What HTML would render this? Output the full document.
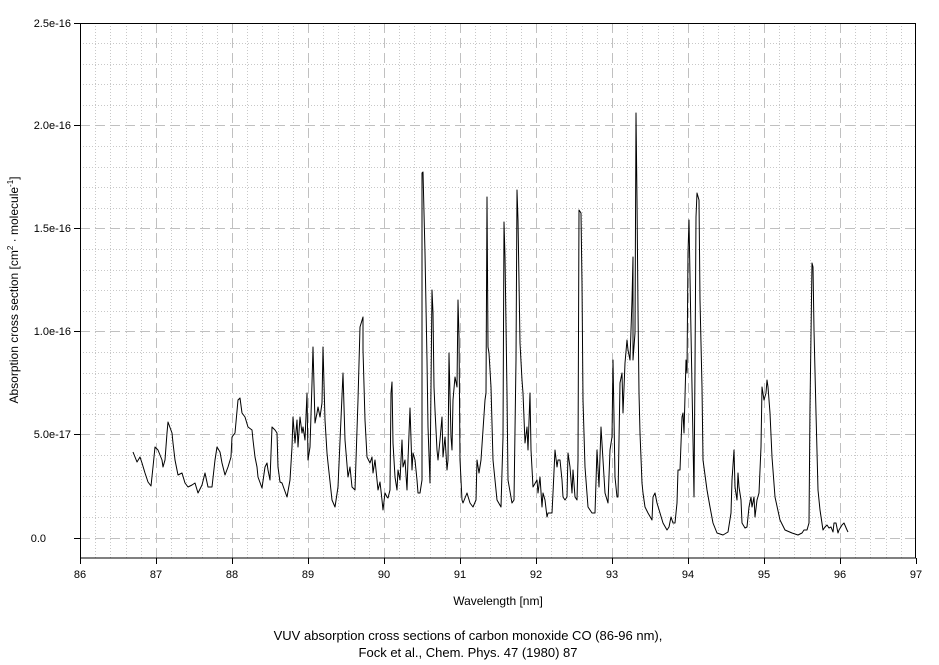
<!DOCTYPE html>
<html><head><meta charset="utf-8"><style>
html,body{margin:0;padding:0;background:#fff;}
svg{display:block;font-family:"Liberation Sans",Arial,sans-serif;}
</style></head><body>
<svg width="939" height="665" viewBox="0 0 939 665" xmlns="http://www.w3.org/2000/svg">
<rect width="939" height="665" fill="#fff"/>
<g stroke="#c8c8c8" stroke-width="1" stroke-dasharray="1,2" shape-rendering="crispEdges">
<path d="M95.5 23V558M110.5 23V558M126.5 23V558M141.5 23V558M171.5 23V558M186.5 23V558M202.5 23V558M217.5 23V558M247.5 23V558M262.5 23V558M278.5 23V558M293.5 23V558M323.5 23V558M338.5 23V558M354.5 23V558M369.5 23V558M399.5 23V558M414.5 23V558M430.5 23V558M445.5 23V558M475.5 23V558M490.5 23V558M506.5 23V558M521.5 23V558M551.5 23V558M566.5 23V558M582.5 23V558M597.5 23V558M627.5 23V558M642.5 23V558M658.5 23V558M673.5 23V558M703.5 23V558M718.5 23V558M734.5 23V558M749.5 23V558M779.5 23V558M794.5 23V558M810.5 23V558M825.5 23V558M855.5 23V558M870.5 23V558M886.5 23V558M901.5 23V558"/>
<path d="M80 43.5H916M80 64.5H916M80 84.5H916M80 105.5H916M80 146.5H916M80 167.5H916M80 187.5H916M80 208.5H916M80 249.5H916M80 270.5H916M80 290.5H916M80 311.5H916M80 352.5H916M80 373.5H916M80 393.5H916M80 414.5H916M80 455.5H916M80 476.5H916M80 496.5H916M80 517.5H916"/>
</g>
<g stroke="#c0c0c0" stroke-width="1" stroke-dasharray="10,5" shape-rendering="crispEdges">
<path d="M156.5 23V558M232.5 23V558M308.5 23V558M384.5 23V558M460.5 23V558M536.5 23V558M612.5 23V558M688.5 23V558M764.5 23V558M840.5 23V558"/>
<path d="M80 125.5H916M80 228.5H916M80 331.5H916M80 434.5H916M80 538.5H916"/>
</g>
<g stroke="#000" stroke-width="1" fill="none" shape-rendering="crispEdges">
<rect x="80.5" y="23.5" width="835" height="534.5"/>
<path d="M74 23.5H80M74 125.5H80M74 228.5H80M74 331.5H80M74 434.5H80M74 538.5H80"/>
<path d="M80.5 558V564M156.5 558V564M232.5 558V564M308.5 558V564M384.5 558V564M460.5 558V564M536.5 558V564M612.5 558V564M688.5 558V564M764.5 558V564M840.5 558V564M916.5 558V564"/>
</g>
<g font-size="11" fill="#000" text-anchor="end">
<text x="71" y="27">2.5e-16</text><text x="71" y="129">2.0e-16</text><text x="71" y="232">1.5e-16</text><text x="71" y="335">1.0e-16</text><text x="71" y="438">5.0e-17</text><text x="46" y="542">0.0</text>
</g>
<g font-size="11" fill="#000" text-anchor="middle">
<text x="80" y="578">86</text><text x="156" y="578">87</text><text x="232" y="578">88</text><text x="308" y="578">89</text><text x="384" y="578">90</text><text x="460" y="578">91</text><text x="536" y="578">92</text><text x="612" y="578">93</text><text x="688" y="578">94</text><text x="764" y="578">95</text><text x="840" y="578">96</text><text x="916" y="578">97</text>
<text x="498" y="605" font-size="12">Wavelength [nm]</text>
<text x="468" y="640" font-size="13">VUV absorption cross sections of carbon monoxide CO (86-96 nm),</text>
<text x="468" y="657" font-size="13">Fock et al., Chem. Phys. 47 (1980) 87</text>
</g>
<text transform="translate(18,290) rotate(-90)" font-size="12" text-anchor="middle">Absorption cross section [cm<tspan dy="-5" font-size="8">2</tspan><tspan dy="5"> · molecule</tspan><tspan dy="-5" font-size="8">-1</tspan><tspan dy="5">]</tspan></text>
<polyline fill="none" stroke="#000" stroke-width="1" stroke-linejoin="round" points="
133,452 137,462 140,457 142,463 145,473 148,482 151,486 153,467 155,447 158,450 162,460 163,467 165,460 167,433 168,422 172,433 173,443 175,460 178,475 182,473 185,483 188,487 192,485 195,483 198,493 202,485 205,473 208,487 212,487 215,460 217,447 220,452 222,463 225,475 228,467 231,457
232,437 235,433 238,400 240,398 242,413 245,417 248,427 252,430 253,440 255,457 257,467 258,477 262,488 265,467 267,463 268,470 270,480 272,427 275,430 277,433 278,467 280,482 282,483 287,497 290,480
292,447 293,417 295,443 297,420 298,447 300,417 302,433 303,427 305,440 307,393 308,460 310,447 312,383 313,347 315,423 317,413 318,407 320,417 322,403 323,347 325,420 327,453 328,463 332,500 335,507 338,487 343,373 345,440 348,477 350,467 352,487 355,490 358,400 360,327 363,317 363,350 365,420 367,457 370,463
372,457 373,473 375,460 377,480 378,490 380,482 382,500 383,510 385,493 387,497 388,498 390,490 391,393 392,382 393,443 395,477 397,490 398,470 400,480 402,440 403,467 405,460 407,490 408,460 410,408 412,470 413,453 415,460 417,480 418,493 420,493 422,480 422,173 423,172 425,253 427,360 428,427 430,483 432,290 433,313 434,387 435,410 437,450 438,460 440,440 442,417 443,457 445,437 447,470 448,460 449,353 451,437 452,450 453,400 455,377 457,387 458,300 459,337 460,460 462,500 463,503 467,493 470,503 473,507 476,500 477,460 479,473 481,460 483,430 485,400 486,393 487,197 488,347 489,353 491,387 493,460 497,500 501,507 503,437 504,222 505,257 507,393 508,480 512,503 514,500 516,360 517,190 518,220 520,343 522,380 523,393 525,443 527,427 528,450 530,393 531,450 533,487 537,480 538,493 540,477
542,507 543,493 545,500 547,517 548,513 552,513 553,493 555,450 557,467 558,460 560,460 562,480 563,497 565,500 567,497 568,453 570,467 572,493 573,470 575,497 577,500 578,460 579,210 581,213 582,283 583,400 585,467 588,507 592,513 595,513 597,450 599,487 601,427 603,460 605,493 608,503 610,450 612,437 613,360 615,477 617,497 618,497 620,383 622,373 623,413 625,363 627,340 628,350 630,360 632,300 633,257 633,360 635,333 636,113 637,200 638,310 639,393 640,433 642,483 643,493 645,507 648,513 652,520 653,497 655,493 657,503 660,513 663,523 667,530 669,527 671,517 673,523 675,523 677,503 678,470 680,470 682,417 683,413 684,433 686,360 687,373 688,253 689,220 691,333 693,440 694,497 695,367 696,217 697,193 699,200 700,300 702,387 703,460 707,490 710,507
713,523 717,533 723,535 728,532 731,513 732,480 734,450 735,487 737,500 738,473 739,487 741,500 742,523 745,528 747,527 749,507 751,497 752,507 754,497 755,517 757,500 759,493 761,447 762,387 764,400 766,393 767,380 768,387 770,413 772,457 775,497 780,520 785,530 792,533 798,535 802,533 804,530 807,530 809,523 810,407 812,263 813,267 814,330 816,413 818,490 820,510 823,530 825,527 827,525 829,528 831,527 833,532 834,523 836,523 838,533 839,530 842,525 844,523 847,530 848,532"/>
</svg>
</body></html>
